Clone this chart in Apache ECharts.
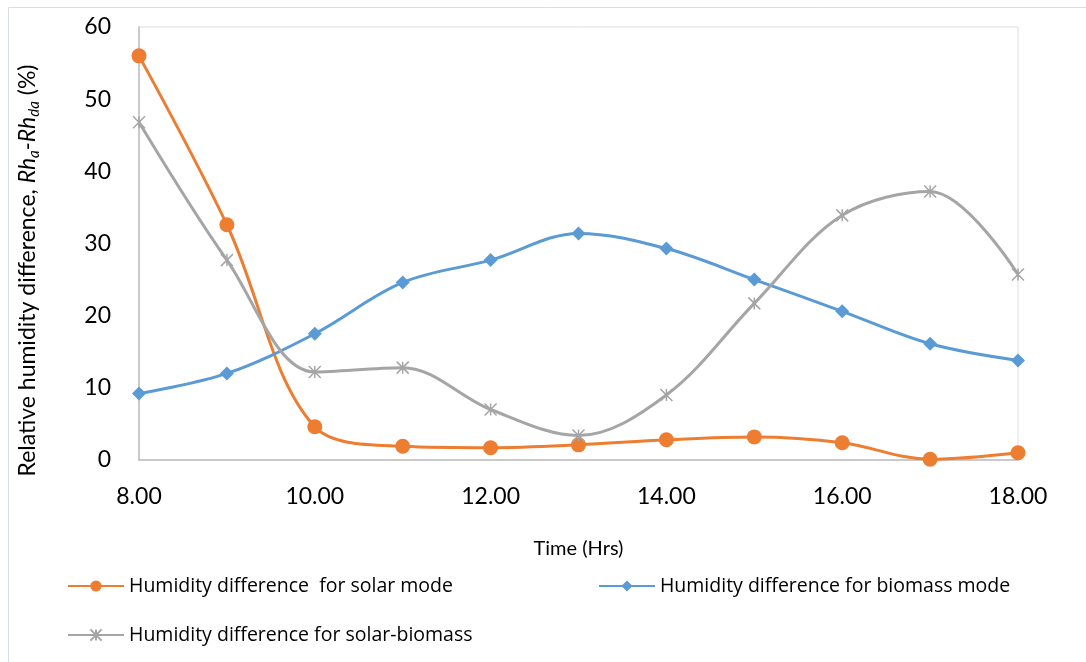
<!DOCTYPE html>
<html>
<head>
<meta charset="utf-8">
<script src="https://cdn.jsdelivr.net/npm/echarts@6/dist/echarts.min.js"></script>
<style>html,body{margin:0;padding:0;background:#fff}#c{width:1086px;height:662px}</style>
</head>
<body>
<div id="c"></div>
<script>
const hours = [8, 9, 10, 11, 12, 13, 14, 15, 16, 17, 18];
const solar = [56.0, 32.6, 4.6, 1.9, 1.7, 2.1, 2.8, 3.2, 2.4, 0.1, 1.0];
const biomass = [9.2, 12.0, 17.5, 24.6, 27.7, 31.4, 29.3, 25.0, 20.6, 16.1, 13.8];
const hybrid = [46.8, 27.7, 12.2, 12.8, 7.0, 3.4, 9.0, 21.7, 33.9, 37.2, 25.7];
const xTicks = [8, 10, 12, 14, 16, 18];
const seriesNames = ['Humidity difference  for solar mode', 'Humidity difference for biomass mode', 'Humidity difference for solar-biomass'];

const pair = (ys) => hours.map((h, i) => [h, ys[i]]);
const font = 'Lato, "Open Sans", sans-serif';
const starPath = 'path://M0,0L10,10M10,0L0,10M5,0L5,10';

const chart = echarts.init(document.getElementById('c'));
chart.setOption({
  animation: false,
  backgroundColor: '#fff',
  graphic: [{
    type: 'rect', shape: {x: 8.5, y: 7.5, width: 1100, height: 700},
    style: {fill: 'none', stroke: '#d9dee6', lineWidth: 1}, silent: true
  }],
  grid: {left: 139, right: 68, top: 27, bottom: 202, show: true, borderColor: '#d9dde3', borderWidth: 1},
  xAxis: {
    type: 'value', min: 8, max: 18, interval: 2,
    name: 'Time (Hrs)', nameLocation: 'middle', nameGap: 79,
    nameTextStyle: {fontFamily: font, fontSize: 20, color: '#000'},
    axisLine: {show: true, lineStyle: {color: '#bfbfbf', width: 1.5}},
    axisTick: {show: false},
    splitLine: {show: false},
    axisLabel: {fontFamily: font, fontSize: 23, color: '#000', margin: 25,
      formatter: v => xTicks.includes(v) ? v.toFixed(2) : ''}
  },
  yAxis: {
    type: 'value', min: 0, max: 60, interval: 10,
    name: '{n|Relative humidity difference, }{i|Rh}{s|a}{i|-Rh}{s|da}{n| (%)}',
    nameLocation: 'middle', nameGap: 97,
    nameTextStyle: {
      padding: [0, 54, 0, 0],
      rich: {
        n: {fontFamily: font, fontSize: 23, color: '#000', lineHeight: 28, verticalAlign: 'middle'},
        i: {fontFamily: font, fontSize: 23, fontStyle: 'italic', color: '#000', lineHeight: 28, verticalAlign: 'middle'},
        s: {fontFamily: font, fontSize: 15, fontStyle: 'italic', color: '#000', lineHeight: 28, verticalAlign: 'bottom', padding: [10, 0, 0, 0]}
      }
    },
    axisLine: {show: true, lineStyle: {color: '#bfbfbf', width: 1.5}},
    axisTick: {show: false},
    splitLine: {show: false},
    axisLabel: {fontFamily: font, fontSize: 23, color: '#000', margin: 28}
  },
  legend: [{
    data: [seriesNames[0], seriesNames[1]],
    left: 62, top: 571, itemWidth: 56, itemHeight: 14, itemGap: 145,
    textStyle: {fontFamily: '"Open Sans", sans-serif', fontSize: 19.5, color: '#000'}
  }, {
    data: [seriesNames[2]],
    left: 62, top: 620, itemWidth: 56, itemHeight: 14,
    textStyle: {fontFamily: '"Open Sans", sans-serif', fontSize: 19.5, color: '#000'}
  }],
  series: [{
    name: seriesNames[0], type: 'line', smooth: 0.35, data: pair(solar),
    symbol: 'circle', symbolSize: 15,
    lineStyle: {color: '#ED7D31', width: 3}, itemStyle: {color: '#ED7D31'}
  }, {
    name: seriesNames[1], type: 'line', smooth: 0.35, data: pair(biomass),
    symbol: 'diamond', symbolSize: 14,
    lineStyle: {color: '#5B9BD5', width: 3}, itemStyle: {color: '#5B9BD5'}
  }, {
    name: seriesNames[2], type: 'line', smooth: 0.35, data: pair(hybrid),
    symbol: starPath, symbolSize: 12,
    lineStyle: {color: '#A5A5A5', width: 3},
    itemStyle: {color: '#A5A5A5', borderColor: '#A5A5A5', borderWidth: 1.5}
  }]
});
</script>
</body>
</html>
